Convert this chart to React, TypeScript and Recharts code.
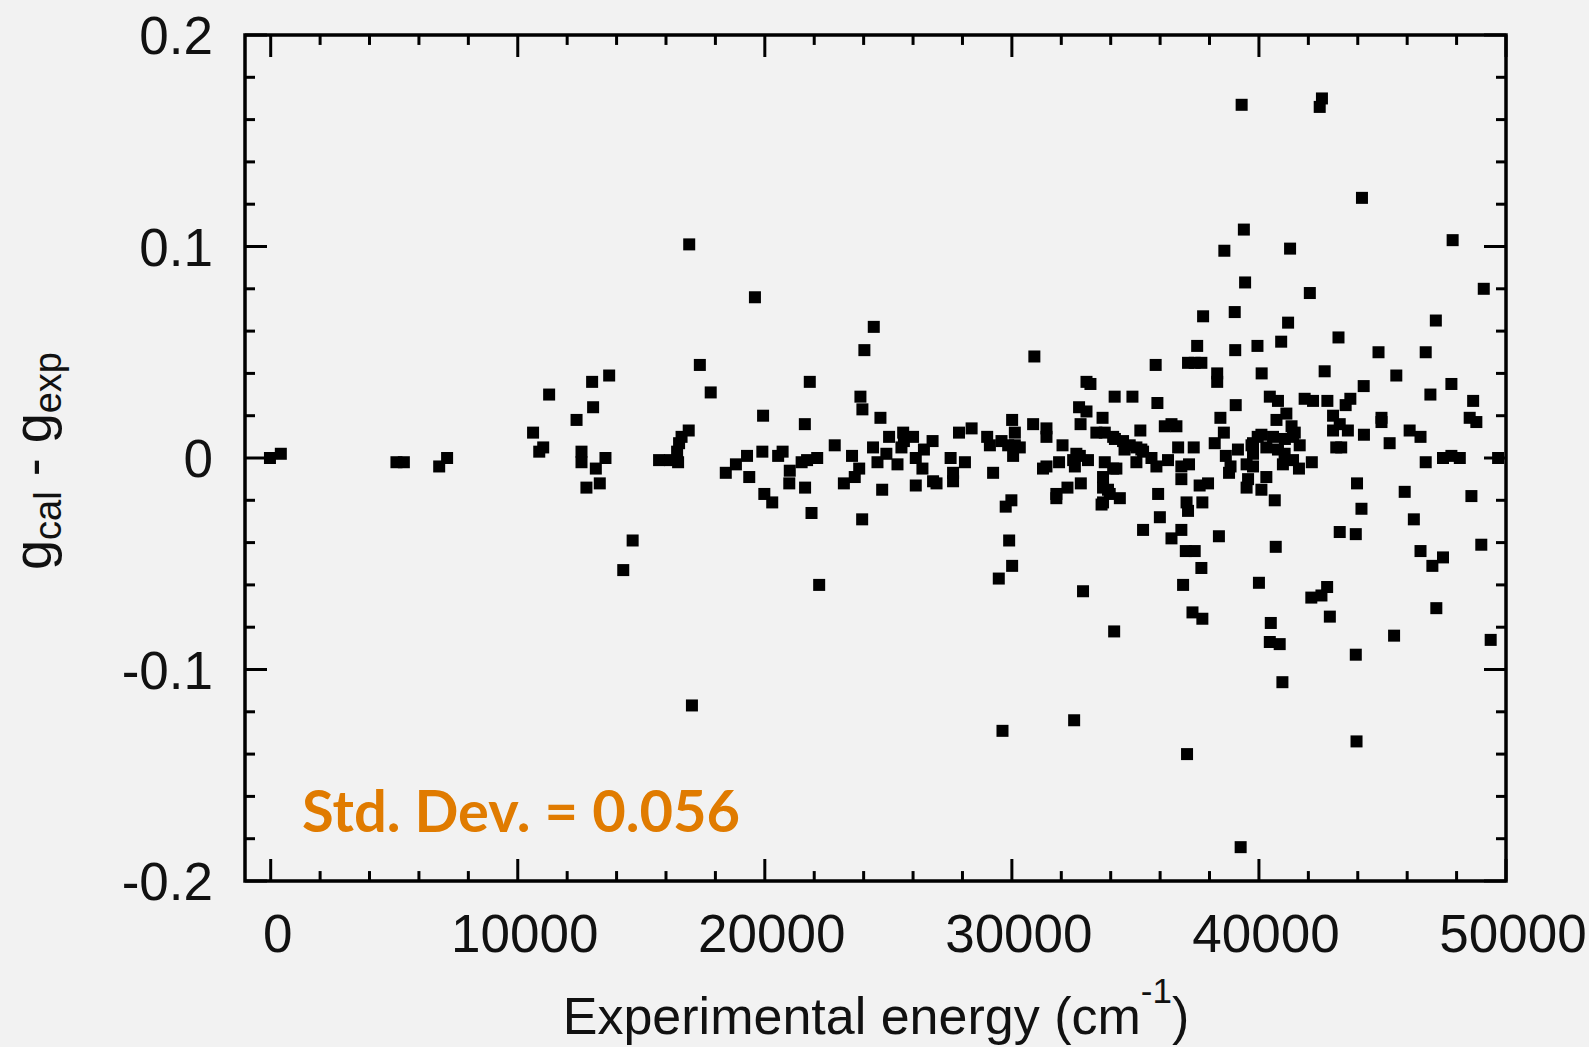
import React from "react";
import { ScatterChart, Scatter, XAxis, YAxis, ReferenceArea, ReferenceLine } from "recharts";

// ---------- axis configuration ----------
const X_DOMAIN: [number, number] = [-1040, 50000];
const Y_DOMAIN: [number, number] = [-0.2, 0.2];

const xTicks = [
  0, 2000, 4000, 6000, 8000, 10000, 12000, 14000, 16000, 18000, 20000, 22000, 24000,
  26000, 28000, 30000, 32000, 34000, 36000, 38000, 40000, 42000, 44000, 46000, 48000, 50000,
];
const xMajorTicks = [0, 10000, 20000, 30000, 40000, 50000];
const xTickLabels = ["0", "10000", "20000", "30000", "40000", "50000"];

const yTicks = [
  -0.2, -0.18, -0.16, -0.14, -0.12, -0.1, -0.08, -0.06, -0.04, -0.02, 0, 0.02, 0.04, 0.06,
  0.08, 0.1, 0.12, 0.14, 0.16, 0.18, 0.2,
];
const yMajorTicks = [-0.2, -0.1, 0, 0.1, 0.2];
const yTickLabels = ["-0.2", "-0.1", "0", "0.1", "0.2"];

// ---------- data: [experimental energy (cm^-1), g_cal - g_exp] ----------
const bandBelow25k: [number, number][] = [
  [-30, 0.0], [410, 0.002], [5090, -0.002], [5390, -0.002], [6820, -0.004], [7140, 0.0],
  [10620, 0.012], [10870, 0.003], [11030, 0.005], [11270, 0.03], [12380, 0.018], [12580, 0.003],
  [12580, -0.002], [12780, -0.014], [13010, 0.036], [13050, 0.024], [13160, -0.005], [13320, -0.012],
  [13550, 0.0], [13700, 0.039], [14270, -0.053], [14650, -0.039], [15720, -0.001], [16160, -0.001],
  [16450, 0.003], [16490, -0.002], [16530, 0.007], [16630, 0.01], [16920, 0.013], [16940, 0.101],
  [17050, -0.117], [17370, 0.044], [17810, 0.031], [18420, -0.007], [18830, -0.003], [19280, 0.001],
  [19370, -0.009], [19600, 0.076], [19900, 0.003], [19930, 0.02], [19980, -0.017], [20300, -0.021],
  [20540, 0.001], [20720, 0.003], [20990, -0.012], [21010, -0.006], [21490, -0.002], [21620, 0.016],
  [21630, -0.014], [21710, -0.001], [21820, 0.036], [21890, -0.026], [22120, 0.0], [22200, -0.06],
  [22830, 0.006], [23200, -0.012], [23530, 0.001], [23640, -0.009], [23820, -0.005], [23870, 0.029],
  [23940, -0.029], [23950, 0.023], [24030, 0.051], [24380, 0.005], [24410, 0.062], [24560, -0.002],
  [24680, 0.019], [24750, -0.015], [24920, 0.002],
];

const band25to33k: [number, number][] = [
  [25030, 0.01], [25370, -0.003], [25530, 0.005], [25600, 0.012], [25630, 0.008], [26000, 0.01],
  [26110, 0.0], [26110, -0.013], [26380, -0.005], [26440, 0.004], [26790, 0.008], [26810, -0.011],
  [26950, -0.012], [27520, 0.0], [27620, -0.007], [27620, -0.011], [27860, 0.012], [28100, -0.002],
  [28370, 0.014], [29000, 0.01], [29110, 0.006], [29240, -0.007], [29470, -0.057], [29580, 0.008],
  [29620, -0.129], [29750, -0.023], [29850, 0.006], [29890, -0.039], [29980, -0.02], [30010, -0.051],
  [30010, 0.018], [30050, 0.001], [30120, 0.012], [30120, 0.006], [30320, 0.005], [30860, 0.016],
  [30910, 0.048], [31260, -0.005], [31400, 0.014], [31400, 0.01], [31400, -0.004], [31800, -0.017],
  [31800, -0.019], [31910, -0.002], [32050, 0.006], [32250, -0.014], [32480, -0.001], [32520, -0.124],
  [32550, -0.004], [32610, 0.002], [32720, 0.024], [32750, 0.001], [32780, 0.016], [32790, -0.012],
  [32880, -0.063],
];

const band33to38k: [number, number][] = [
  [33020, 0.036], [33020, 0.022], [33080, -0.001], [33180, 0.035], [33420, 0.012], [33630, -0.022],
  [33670, 0.019], [33690, -0.014], [33690, -0.009], [33690, -0.021], [33760, 0.012], [33760, -0.002],
  [33890, -0.015], [33960, -0.017], [34100, 0.01], [34100, -0.005], [34140, -0.082], [34160, 0.029],
  [34170, 0.009], [34230, -0.005], [34370, -0.019], [34500, 0.008], [34560, 0.004], [34770, 0.006],
  [34880, 0.029], [35040, -0.002], [35040, 0.005], [35200, 0.013], [35240, 0.004], [35310, -0.034],
  [35310, 0.003], [35650, 0.0], [35820, 0.044], [35850, -0.004], [35890, 0.026], [35920, -0.017],
  [35990, -0.028], [36190, 0.015], [36320, -0.001], [36460, 0.016], [36460, -0.038], [36660, 0.015],
  [36730, 0.005], [36860, -0.004], [36860, -0.01], [36860, -0.034], [36930, -0.06], [37040, -0.044],
  [37070, -0.021], [37090, -0.14], [37130, 0.045], [37130, -0.025], [37170, -0.003], [37310, -0.073],
  [37360, 0.005], [37400, 0.045], [37400, -0.044], [37500, 0.053], [37600, -0.013], [37670, 0.045],
  [37670, -0.052], [37710, -0.021], [37710, -0.076], [37740, 0.067], [37940, -0.012],
];

const band38to42k: [number, number][] = [
  [38210, 0.007], [38310, 0.04], [38310, 0.036], [38380, -0.037], [38440, 0.019], [38580, 0.012],
  [38600, 0.098], [38660, 0.001], [38790, -0.007], [38850, -0.004], [39020, 0.069], [39040, 0.051],
  [39060, 0.025], [39150, 0.004], [39260, -0.184], [39300, 0.167], [39390, 0.108], [39440, 0.083],
  [39500, -0.003], [39500, -0.014], [39560, -0.01], [39700, 0.006], [39760, 0.002], [39760, -0.004],
  [39760, 0.007], [39950, 0.01], [39940, 0.053], [40000, -0.059], [40100, 0.011], [40100, -0.015],
  [40110, 0.04], [40300, 0.005], [40300, -0.009], [40440, 0.029], [40440, -0.087], [40480, -0.078],
  [40570, 0.01], [40640, -0.02], [40680, -0.042], [40710, 0.018], [40770, 0.027], [40770, 0.004],
  [40840, -0.088], [40900, 0.055], [40950, -0.106], [40970, -0.003], [41040, 0.002], [41050, 0.009],
  [41110, 0.021], [41180, 0.064], [41260, 0.099], [41320, 0.015], [41380, -0.001], [41380, 0.01],
  [41450, 0.012], [41620, -0.005], [41650, 0.006], [41850, 0.028],
];

const bandAbove42k: [number, number][] = [
  [42060, 0.078], [42120, -0.066], [42140, -0.002], [42190, 0.027], [42460, 0.166], [42530, -0.065],
  [42550, 0.17], [42660, 0.041], [42760, -0.061], [42770, 0.027], [42870, -0.075], [43000, 0.02],
  [43000, 0.013], [43130, 0.005], [43330, 0.005], [43220, 0.057], [43270, 0.016], [43270, -0.035],
  [43510, 0.025], [43600, 0.013], [43700, 0.028], [43920, -0.036], [43920, -0.093], [43950, -0.134],
  [43970, -0.012], [44150, -0.024], [44170, 0.123], [44240, 0.034], [44250, 0.011], [44840, 0.05],
  [44960, 0.019], [44960, 0.017], [45290, 0.007], [45470, -0.084], [45560, 0.039], [45900, -0.016],
  [46100, 0.013], [46270, -0.029], [46540, 0.01], [46540, -0.044], [46750, 0.05], [46750, -0.002],
  [46940, 0.03], [47020, -0.051], [47160, 0.065], [47180, -0.071], [47450, 0.0], [47450, -0.047],
  [47790, 0.035], [47790, 0.001], [47840, 0.103], [48130, 0.0], [48530, 0.019], [48600, -0.018],
  [48670, 0.027], [48800, 0.017], [49000, -0.041], [49100, 0.08], [49380, -0.086], [49680, 0.0],
];

const points = [...bandBelow25k, ...band25to33k, ...band33to38k, ...band38to42k, ...bandAbove42k].map(
  ([energy, dg]) => ({ energy, dg })
);

// ---------- styling ----------
const BG = "#F2F2F2";
const TICK_W = 3;
const FRAME_W = 3.5;
const TICK_FONT = "'Liberation Sans', Arial, Helvetica, sans-serif";
const TICK_SIZE = 53;
// inward tick lengths expressed in axis units (22 px major, 10 px minor)
const X_TICK_MAJOR = 0.0104;
const X_TICK_MINOR = 0.0047;
const Y_TICK_MAJOR = 890;
const Y_TICK_MINOR = 405;

const findIdx = (arr: number[], v: number) => arr.findIndex((t) => Math.abs(t - v) < 1e-9);

const BottomLabel = (props: any) => {
  const { x, y, payload } = props;
  const i = findIdx(xMajorTicks, payload.value);
  if (i < 0) return null;
  return (
    <text x={x + 7} y={y + 71} textAnchor="middle" fontFamily={TICK_FONT} fontSize={TICK_SIZE} fill="#111">
      {xTickLabels[i]}
    </text>
  );
};

const LeftLabel = (props: any) => {
  const { x, y, payload } = props;
  const i = findIdx(yMajorTicks, payload.value);
  if (i < 0) return null;
  return (
    <text x={x - 32} y={y + 19} textAnchor="end" fontFamily={TICK_FONT} fontSize={TICK_SIZE} fill="#111">
      {yTickLabels[i]}
    </text>
  );
};

const SquareMarker = (props: any) => {
  const { cx, cy } = props;
  if (cx == null || cy == null) return null;
  return <rect x={cx - 6} y={cy - 6} width={12} height={12} fill="#000" />;
};

const tickStyle = { stroke: "#000", strokeWidth: TICK_W, ifOverflow: "visible" as const, xAxisId: "bottom", yAxisId: "left" };

export default function App() {
  const xTickLines = xTicks.flatMap((v) => {
    const len = findIdx(xMajorTicks, v) >= 0 ? X_TICK_MAJOR : X_TICK_MINOR;
    return [
      <ReferenceLine key={`xb${v}`} {...tickStyle} segment={[{ x: v, y: Y_DOMAIN[0] }, { x: v, y: Y_DOMAIN[0] + len }]} />,
      <ReferenceLine key={`xt${v}`} {...tickStyle} segment={[{ x: v, y: Y_DOMAIN[1] }, { x: v, y: Y_DOMAIN[1] - len }]} />,
    ];
  });
  const yTickLines = yTicks.flatMap((v) => {
    const len = findIdx(yMajorTicks, v) >= 0 ? Y_TICK_MAJOR : Y_TICK_MINOR;
    return [
      <ReferenceLine key={`yl${v}`} {...tickStyle} segment={[{ x: X_DOMAIN[0], y: v }, { x: X_DOMAIN[0] + len, y: v }]} />,
      <ReferenceLine key={`yr${v}`} {...tickStyle} segment={[{ x: X_DOMAIN[1], y: v }, { x: X_DOMAIN[1] - len, y: v }]} />,
    ];
  });

  return (
    <div style={{ position: "absolute", left: 0, top: 0, width: 1589, height: 1047, background: BG, overflow: "hidden" }}>
      <ScatterChart width={1589} height={1047} margin={{ top: 35, right: 83, bottom: 0, left: 0 }}>
        <XAxis
          xAxisId="bottom"
          dataKey="energy"
          type="number"
          domain={X_DOMAIN}
          allowDataOverflow
          ticks={xTicks}
          interval={0}
          height={166}
          tickSize={0}
          tickMargin={0}
          tickLine={false}
          axisLine={false}
          tick={<BottomLabel />}
        />
        <YAxis
          yAxisId="left"
          dataKey="dg"
          type="number"
          domain={Y_DOMAIN}
          allowDataOverflow
          ticks={yTicks}
          interval={0}
          width={245}
          tickSize={0}
          tickMargin={0}
          tickLine={false}
          axisLine={false}
          tick={<LeftLabel />}
        />
        <ReferenceArea
          xAxisId="bottom"
          yAxisId="left"
          x1={X_DOMAIN[0]}
          x2={X_DOMAIN[1]}
          y1={Y_DOMAIN[0]}
          y2={Y_DOMAIN[1]}
          fill="none"
          fillOpacity={0}
          stroke="#000"
          strokeWidth={FRAME_W}
          ifOverflow="visible"
        />
        {xTickLines}
        {yTickLines}
        <Scatter
          data={points}
          xAxisId="bottom"
          yAxisId="left"
          fill="#000"
          shape={<SquareMarker />}
          isAnimationActive={false}
        />
      </ScatterChart>
      <svg
        width={1589}
        height={1047}
        style={{ position: "absolute", left: 0, top: 0, pointerEvents: "none" }}
      >
        <text x={876} y={1034} textAnchor="middle" fontFamily={TICK_FONT} fontSize={52} fill="#111">
          Experimental energy (cm
          <tspan fontSize={35} dy={-31}>-1</tspan>
          <tspan dy={31}>)</tspan>
        </text>
        <text
          transform="translate(51,461) rotate(-90)"
          textAnchor="middle"
          fontFamily={TICK_FONT}
          fontSize={54}
          fill="#111"
        >
          g<tspan fontSize={38} dy={10}>cal</tspan>
          <tspan dy={-10}> - g</tspan>
          <tspan fontSize={38} dy={10}>exp</tspan>
        </text>
        <text
          x={302}
          y={832}
          fontFamily="Lato, 'Open Sans', sans-serif"
          fontWeight={700}
          fontSize={58}
          fill="#E07B00"
          textLength={438}
          lengthAdjust="spacingAndGlyphs"
        >
          Std. Dev. = 0.056
        </text>
      </svg>
    </div>
  );
}
